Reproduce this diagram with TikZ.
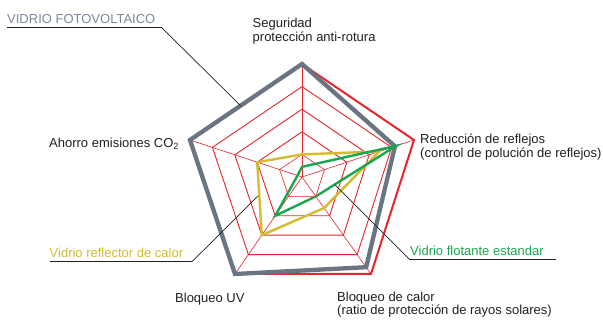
\documentclass[tikz,border=0pt]{standalone}
\usepackage{fontspec}
\setmainfont{Liberation Sans}
\usetikzlibrary{calc}
\definecolor{pvgrey}{HTML}{6B7581}
\definecolor{pvtext}{HTML}{7D8898}
\definecolor{gridred}{HTML}{E8242C}
\definecolor{yel}{HTML}{D4BC2E}
\definecolor{grn}{HTML}{1BA550}
\definecolor{ink}{HTML}{231F20}
\begin{document}
\begin{tikzpicture}[x=1pt,y=-1pt,
  lbl/.style={anchor=base west, inner sep=0pt, font=\fontsize{13}{13.5}\selectfont, text=ink},
  gridthin/.style={draw=gridred, line width=0.6pt},
  gridmid/.style={draw=gridred, line width=0.9pt},
  gridouter/.style={draw=gridred, line width=2pt},
  pvline/.style={draw=pvgrey, line width=4.3pt},
  refline/.style={draw=yel, line width=2.4pt},
  floline/.style={draw=grn, line width=2.4pt},
  leader/.style={draw=ink, line width=0.7pt},
  uline/.style={draw=ink, line width=1pt},
]
\useasboundingbox (0,0) rectangle (603,320);
\fill[white] (0,0) rectangle (603,320);
% axes
\coordinate (C) at (302,177);
\coordinate (A1) at (302,64);
\coordinate (A2) at (414,140);
\coordinate (A3) at (371,274);
\coordinate (A4) at (235,274);
\coordinate (A5) at (190,140);
% spokes
\foreach \k in {1,...,5} \draw[gridthin] (C) -- (A\k);
% level pentagons
\draw[gridthin] ($(C)!0.2!(A1)$) -- ($(C)!0.2!(A2)$) -- ($(C)!0.2!(A3)$) -- ($(C)!0.2!(A4)$) -- ($(C)!0.2!(A5)$) -- cycle;
\foreach \f in {0.4,0.6,0.8}
  \draw[gridmid] ($(C)!\f!(A1)$) -- ($(C)!\f!(A2)$) -- ($(C)!\f!(A3)$) -- ($(C)!\f!(A4)$) -- ($(C)!\f!(A5)$) -- cycle;
\draw[gridouter] (A1) -- (A2) -- (A3) -- (A4) -- (A5) -- cycle;
% VIDRIO FOTOVOLTAICO
\draw[pvline] (A1) -- ($(C)!0.83!(A2)$) -- ($(C)!0.93!(A3)$) -- (A4) -- (A5) -- cycle;
% Vidrio reflector de calor
\draw[refline] ($(C)!0.2!(A1)$) -- ($(C)!0.69!(A2)$) -- ($(C)!0.32!(A3)$) -- ($(C)!0.6!(A4)$) -- ($(C)!0.4!(A5)$) -- cycle;
% Vidrio flotante estandar
\draw[floline] ($(C)!0.09!(A1)$) -- ($(C)!0.84!(A2)$) -- ($(C)!0.2!(A3)$) -- ($(C)!0.4!(A4)$) -- ($(C)!0.04!(A5)$) -- cycle;
% axis labels
\node[lbl] (segA) at (252.5,28) {Seguridad};
\node[lbl] (segB) at (252.5,41.5) {protección anti-rotura};
\node[lbl] (redA) at (420,144) {Reducción de reflejos};
\node[lbl] (redB) at (420,157.5) {(control de polución de reflejos)};
\node[lbl] (aho) at (49,147.5) {Ahorro emisiones CO\textsubscript{2}};
\node[lbl] (uv) at (175,303) {Bloqueo UV};
\node[lbl] (calA) at (337,301.5) {Bloqueo de calor};
\node[lbl] (calB) at (337,315) {(ratio de protección de rayos solares)};
% legend labels
\node[lbl, text=pvtext] (pv) at (7,24) {VIDRIO FOTOVOLTAICO};
\node[lbl, text=yel] (ref) at (49.5,258) {Vidrio reflector de calor};
\node[lbl, text=grn] (flo) at (410,256) {Vidrio flotante estandar};
% underlines and leaders
\coordinate (pvU) at (7,28);
\coordinate (pvK) at (162,28);
\coordinate (pvE) at (241,106);
\draw[uline] (pvU) -- (pvK);
\draw[leader] (pvK) -- (pvE);
\coordinate (refU) at (50,261.7);
\coordinate (refK) at (192,261.7);
\coordinate (refE) at (258,196);
\draw[uline] (refU) -- (refK);
\draw[leader] (refK) -- (refE);
\coordinate (floU) at (556,260);
\coordinate (floK) at (410,260);
\coordinate (floE) at (335,185);
\draw[uline] (floU) -- (floK);
\draw[leader] (floK) -- (floE);
\end{tikzpicture}
\end{document}
